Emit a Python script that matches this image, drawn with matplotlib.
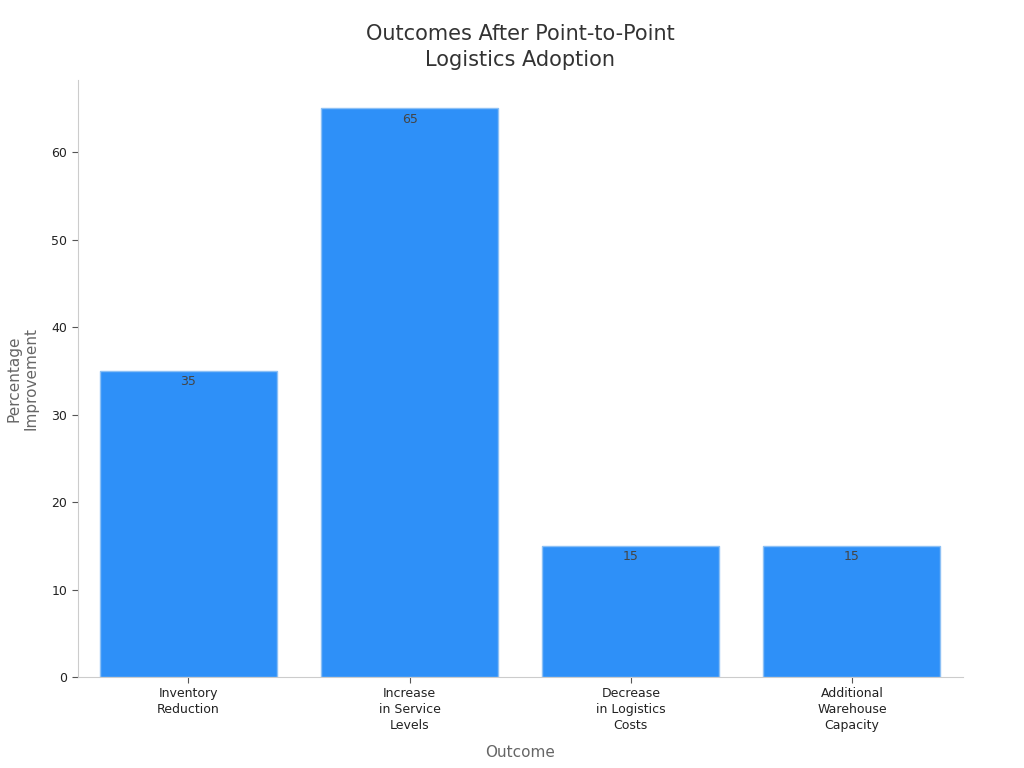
import matplotlib
matplotlib.use("Agg")
import matplotlib.pyplot as plt

categories = ["Inventory\nReduction", "Increase\nin Service\nLevels", "Decrease\nin Logistics\nCosts", "Additional\nWarehouse\nCapacity"]
values = [35, 65, 15, 15]
yticks = [0, 10, 20, 30, 40, 50, 60]

plt.rcParams['font.family'] = ['DejaVu Sans']
fig = plt.figure(figsize=(10.24, 7.68), dpi=100)
ax = fig.add_axes([0.076, 0.1185, 0.864, 0.7775])

x = list(range(len(categories)))
bars = ax.bar(x, values, width=0.8, color="#2E90F8", edgecolor="#8CC0F5", linewidth=1.0)
for b, v in zip(bars, values):
    ax.text(b.get_x() + b.get_width() / 2, v - 0.5, str(v), ha="center", va="top", fontsize=9, color="#444444")

ax.set_xlim(-0.5, 3.5)
ax.set_ylim(0, 68.25)
ax.set_xticks(x)
ax.set_xticklabels(categories, fontsize=9, color="#222222", linespacing=1.3)
ax.set_yticks(yticks)
ax.tick_params(axis='y', labelsize=9, colors="#222222", length=4, color="#555555")
ax.tick_params(axis='x', length=4, color="#555555")
for s in ["top", "right"]:
    ax.spines[s].set_visible(False)
for s in ["left", "bottom"]:
    ax.spines[s].set_color("#cccccc")

ax.set_xlabel("Outcome", fontsize=11, color="#666666", labelpad=9)
ax.set_ylabel("Percentage\nImprovement", fontsize=11, color="#666666", labelpad=9)
ax.set_title("Outcomes After Point-to-Point\nLogistics Adoption", fontsize=15, color="#333333", pad=10, linespacing=1.36)

fig.savefig("out.png", dpi=100)
